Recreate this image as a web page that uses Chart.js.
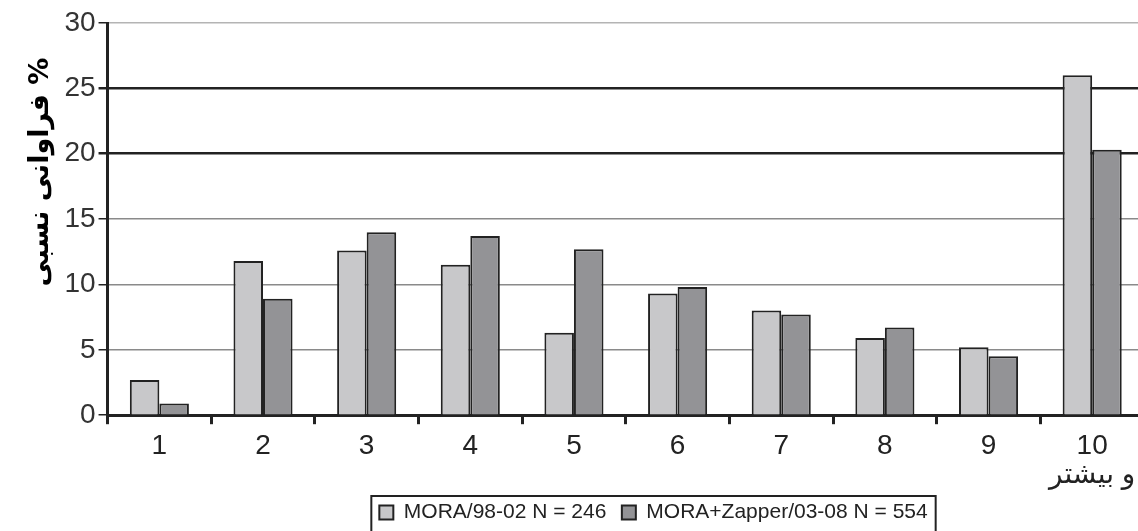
<!DOCTYPE html>
<html lang="fa">
<head>
  <meta charset="UTF-8">
  <title>فراوانی نسبی</title>
  <script src="https://cdn.jsdelivr.net/npm/chart.js"></script>
  <style>
    html, body {
      margin: 0;
      padding: 0;
      overflow: hidden;
      background: #fff;
    }
  </style>
</head>
<body>
  <canvas id="freqChart" width="1144" height="533"></canvas>

  <script>
    // categories (last one is "10 and more")
    const categories = ['1', '2', '3', '4', '5', '6', '7', '8', '9', ['10', 'و بیشتر']];

    // relative frequency (%)
    const mora9802 = [2.7, 11.8, 12.6, 11.5, 6.3, 9.3, 8.0, 5.9, 5.2, 26.0];
    const moraZapper0308 = [0.9, 8.9, 14.0, 13.7, 12.7, 9.8, 7.7, 6.7, 4.5, 20.3];

    const seriesLabels = ['MORA/98-02 N = 246', 'MORA+Zapper/03-08 N = 554'];
    const yTicks = [0, 5, 10, 15, 20, 25, 30];
    // leading spaces push the rotated title up a little, as in the original
    const yTitle = '\u00a0'.repeat(10) + 'فراوانی نسبی %';

    // legend sits a bit right of centre in the original, and has a frame
    const legendShift = 69;
    const legendFrame = {
      id: 'legendFrame',
      afterLayout(chart) {
        chart.legend.left += legendShift;
        chart.legend.right += legendShift;
      },
      afterDraw(chart) {
        const boxes = chart.legend.legendHitBoxes;
        if (!boxes || !boxes.length) return;
        let l = Infinity, r = -Infinity, t = Infinity;
        boxes.forEach(h => {
          l = Math.min(l, h.left); r = Math.max(r, h.left + h.width);
          t = Math.min(t, h.top);
        });
        const ctx = chart.ctx;
        ctx.save();
        ctx.strokeStyle = '#222';
        ctx.lineWidth = 2;
        ctx.strokeRect(l - 8, t - 6, r - l + 16, 80);
        ctx.restore();
      }
    };

    const ctx = document.getElementById('freqChart').getContext('2d');
    new Chart(ctx, {
      type: 'bar',
      data: {
        labels: categories,
        datasets: [{
          label: seriesLabels[0],
          data: mora9802,
          backgroundColor: '#c8c8ca',
          borderColor: '#222',
          borderWidth: 2,
          categoryPercentage: 0.57,
          barPercentage: 1.0
        }, {
          label: seriesLabels[1],
          data: moraZapper0308,
          backgroundColor: '#939396',
          borderColor: '#222',
          borderWidth: 2,
          categoryPercentage: 0.57,
          barPercentage: 1.0
        }]
      },
      options: {
        responsive: false,
        animation: false,
        layout: { padding: { top: 23, left: 25, right: 0, bottom: 0 } },
        plugins: {
          tooltip: { enabled: false },
          legend: {
            position: 'bottom',
            labels: {
              boxWidth: 14,
              boxHeight: 14,
              padding: 5,
              color: '#222',
              font: { family: 'Arial, "Liberation Sans", sans-serif', size: 21 },
              // a little more room between the two entries
              generateLabels(chart) {
                const items = Chart.defaults.plugins.legend.labels.generateLabels(chart);
                items.forEach((it, i) => {
                  if (i < items.length - 1) it.text += '\u2002';
                });
                return items;
              }
            }
          }
        },
        scales: {
          x: {
            border: { color: '#222', width: 3 },
            grid: {
              drawOnChartArea: false,
              drawTicks: true,
              tickLength: 9,
              color: '#222',
              lineWidth: 3
            },
            ticks: {
              color: '#222',
              padding: 7,
              font: { family: 'Arial, "Liberation Sans", "DejaVu Sans", sans-serif', size: 28, lineHeight: 1.05 }
            }
          },
          y: {
            min: 0,
            max: 30,
            afterBuildTicks(axis) {
              axis.ticks = yTicks.map(v => ({ value: v }));
            },
            border: { color: '#222', width: 3 },
            grid: {
              tickLength: 9,
              tickColor: '#222',
              color: c => {
                const v = c.tick ? c.tick.value : 0;
                if (v === 30) return '#b4b4b4';
                if (v === 20 || v === 25) return '#222';
                return '#8a8a8a';
              },
              lineWidth: c => {
                const v = c.tick ? c.tick.value : 0;
                return (v === 20 || v === 25) ? 2.5 : 1.5;
              }
            },
            ticks: {
              color: '#333',
              padding: 3,
              font: { family: 'Arial, "Liberation Sans", sans-serif', size: 28 }
            },
            title: {
              display: true,
              text: yTitle,
              color: '#000',
              padding: { top: 0, bottom: 4 },
              font: { family: '"DejaVu Sans", sans-serif', size: 27, weight: 'bold' }
            }
          }
        }
      },
      plugins: [legendFrame]
    });
  </script>
</body>
</html>
